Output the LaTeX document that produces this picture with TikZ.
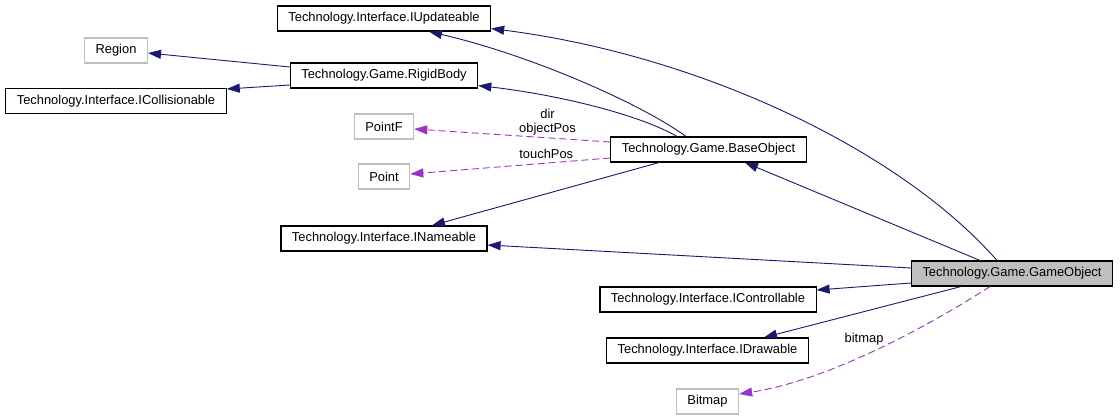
\documentclass[tikz,border=0pt]{standalone}
\usepackage{fontspec}
\setmainfont{Liberation Sans}
\usepackage{tikz}
\usetikzlibrary{arrows,arrows.meta,positioning}
\definecolor{edgeblue}{HTML}{191970}
\definecolor{usepurple}{HTML}{9A32CD}
\definecolor{boxgrey}{HTML}{BFBFBF}
\begin{document}
\begin{tikzpicture}[x=1pt,y=-1pt,>={Triangle[length=13pt,width=9pt]},
  every node/.style={font=\fontsize{12.9}{14}\selectfont},
  cls/.style={draw,line width=1.1pt,fill=white,minimum height=25pt,inner xsep=11pt,inner ysep=0pt},
  ext/.style={cls,draw=boxgrey},
  main/.style={cls,fill=boxgrey},
  inh/.style={->,draw=edgeblue,line width=0.9pt},
  use/.style={->,draw=usepurple,line width=0.9pt,dash pattern=on 7pt off 4pt},
  lbl/.style={inner sep=2pt,align=center}]
\useasboundingbox (0,0) rectangle (1120,420);
\path
(384,18.5)    node[cls]  (IUpd)   {Technology.Interface.IUpdateable}
(116,50.5)    node[ext]  (Region) {Region}
(384,75.5)    node[cls]  (RigidB) {Technology.Game.RigidBody}
(116,101)     node[cls]  (ICollis) {Technology.Interface.ICollisionable}
(384,126.5)   node[ext]  (PointF) {PointF}
(384,176.5)   node[ext]  (Point)  {Point}
(708.5,149.5) node[cls]  (BaseObj) {Technology.Game.BaseObject}
(384,238.5)   node[cls]  (IName)  {Technology.Interface.INameable}
(1012,273.5)  node[main] (GameObj) {Technology.Game.GameObject}
(708,299.5)   node[cls]  (ICtrl)  {Technology.Interface.IControllable}
(707.5,350.5) node[cls]  (IDraw)  {Technology.Interface.IDrawable}
(707.5,401.5) node[ext]  (Bitmap) {Bitmap};
% inheritance
\draw[inh] ([xshift=-15pt]GameObj.north) .. controls (900,150) and (700,55) .. ([yshift=3pt]IUpd.south east);
\draw[inh] ([xshift=-22.5pt]BaseObj.north) .. controls (640,103) and (530,55) .. ([xshift=45pt]IUpd.south);
\draw[inh] ([xshift=-31.5pt]BaseObj.north) .. controls (640,115) and (560,95) .. ([yshift=3pt]RigidB.south east);
\draw[inh] ([yshift=8.5pt]RigidB.west)--([yshift=-2.5pt]Region.east);
\draw[inh] ([yshift=-9.5pt]RigidB.west)--([yshift=12pt]ICollis.east);
\draw[inh] ([xshift=-49.5pt]BaseObj.south)--([xshift=48pt]IName.north);
\draw[inh] ([xshift=-32pt]GameObj.north)--([xshift=36.5pt]BaseObj.south);
\draw[inh] ([yshift=5.5pt]GameObj.west)--([yshift=-6.5pt]IName.east);
\draw[inh] ([yshift=-9.5pt]GameObj.west)--([yshift=9.5pt]ICtrl.east);
\draw[inh] ([xshift=-51pt]GameObj.south)--([xshift=56.5pt]IDraw.north);
% usage
\draw[use] ([yshift=7.5pt]BaseObj.west)--([yshift=-2.5pt]PointF.east) node[lbl,pos=.32,above]{dir\\objectPos};
\draw[use] ([yshift=-8.5pt]BaseObj.west)--([yshift=2.5pt]Point.east) node[lbl,pos=.32,above,yshift=2pt]{touchPos};
\draw[use] ([xshift=-22pt]GameObj.south) .. controls (930,325) and (830,380) .. ([yshift=7.5pt]Bitmap.east) node[lbl,pos=.42,anchor=east,inner sep=4pt,xshift=-9pt]{bitmap};
\end{tikzpicture}
\end{document}
